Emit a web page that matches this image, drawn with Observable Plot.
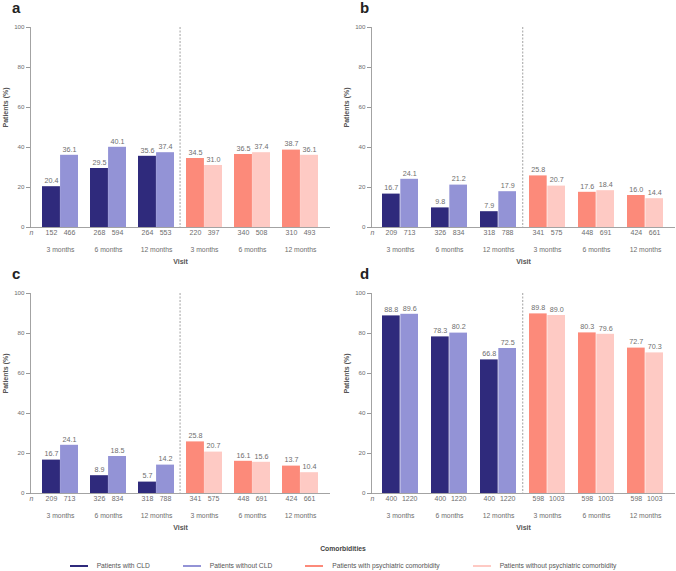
<!DOCTYPE html>
<html><head><meta charset="utf-8">
<script src="https://cdn.jsdelivr.net/npm/d3@7"></script>
<script src="https://cdn.jsdelivr.net/npm/@observablehq/plot@0.6"></script>
<style>
body{margin:0;background:#fff;font-family:"Liberation Sans",Arial,sans-serif;}
#wrap{position:relative;width:676px;height:571px;overflow:hidden;}
.panel{position:absolute;}
.letter{position:absolute;font-size:15px;font-weight:bold;color:#222;line-height:15px;}
#legtitle{position:absolute;left:0;width:686px;top:545px;text-align:center;font-size:6.8px;font-weight:bold;color:#444;}
#legend{position:absolute;left:0;width:686px;top:561px;display:flex;justify-content:center;gap:33px;font-size:6.7px;color:#555;line-height:10px;}
.item{display:flex;align-items:center;}
.sw{width:18px;height:2px;margin-right:9px;}
</style></head><body><div id="wrap"></div>
<script>
const visits = ["3 months", "6 months", "12 months"];
const seriesNames = ["Patients with CLD", "Patients without CLD", "Patients with psychiatric comorbidity", "Patients without psychiatric comorbidity"];
const seriesColors = ["#2f2a7c", "#9393d6", "#fc8a7a", "#fecac4"];
const yTicks = [0, 20, 40, 60, 80, 100];

// Panel a
const aCldWith = [20.4, 29.5, 35.6];
const aCldWithout = [36.1, 40.1, 37.4];
const aPsyWith = [34.5, 36.5, 38.7];
const aPsyWithout = [31.0, 37.4, 36.1];
const aNCldWith = [152, 268, 264];
const aNCldWithout = [466, 594, 553];
const aNPsyWith = [220, 340, 310];
const aNPsyWithout = [397, 508, 493];
// Panel b
const bCldWith = [16.7, 9.8, 7.9];
const bCldWithout = [24.1, 21.2, 17.9];
const bPsyWith = [25.8, 17.6, 16.0];
const bPsyWithout = [20.7, 18.4, 14.4];
const bNCldWith = [209, 326, 318];
const bNCldWithout = [713, 834, 788];
const bNPsyWith = [341, 448, 424];
const bNPsyWithout = [575, 691, 661];
// Panel c
const cCldWith = [16.7, 8.9, 5.7];
const cCldWithout = [24.1, 18.5, 14.2];
const cPsyWith = [25.8, 16.1, 13.7];
const cPsyWithout = [20.7, 15.6, 10.4];
const cNCldWith = [209, 326, 318];
const cNCldWithout = [713, 834, 788];
const cNPsyWith = [341, 448, 424];
const cNPsyWithout = [575, 691, 661];
// Panel d
const dCldWith = [88.8, 78.3, 66.8];
const dCldWithout = [89.6, 80.2, 72.5];
const dPsyWith = [89.8, 80.3, 72.7];
const dPsyWithout = [89.0, 79.6, 70.3];
const dNCldWith = [400, 400, 400];
const dNCldWithout = [1220, 1220, 1220];
const dNPsyWith = [598, 598, 598];
const dNPsyWithout = [1003, 1003, 1003];

const panels = [
  {letter: "a", left: 0, top: 0, ml: 30, mr: 8, v: [aCldWith, aCldWithout, aPsyWith, aPsyWithout], n: [aNCldWith, aNCldWithout, aNPsyWith, aNPsyWithout]},
  {letter: "b", left: 338, top: 0, ml: 33, mr: 1, v: [bCldWith, bCldWithout, bPsyWith, bPsyWithout], n: [bNCldWith, bNCldWithout, bNPsyWith, bNPsyWithout]},
  {letter: "c", left: 0, top: 266, ml: 30, mr: 8, v: [cCldWith, cCldWithout, cPsyWith, cPsyWithout], n: [cNCldWith, cNCldWithout, cNPsyWith, cNPsyWithout]},
  {letter: "d", left: 338, top: 266, ml: 33, mr: 1, v: [dCldWith, dCldWithout, dPsyWith, dPsyWithout], n: [dNCldWith, dNCldWithout, dNPsyWith, dNPsyWithout]}
];

const sides = ["CLD", "PSY"];
const keys = sides.flatMap(s => visits.map(v => s + "|" + v));
const W = 338, H = 270, MT = 27, MB = 43;
const padIn = 0.26, padOut = 0.2;
const wrap = document.getElementById("wrap");
const txt = "#6e6e6e";

for (const p of panels) {
  const rows = [];
  for (let si = 0; si < 4; si++) {
    const side = sides[Math.floor(si / 2)];
    visits.forEach((vis, i) => rows.push({
      key: side + "|" + vis, series: seriesNames[si], pos: si % 2 === 0 ? "L" : "R",
      value: p.v[si][i], n: p.n[si][i]
    }));
  }
  const xs = Plot.scale({x: {type: "band", domain: keys, range: [p.ml, W - p.mr], paddingInner: padIn, paddingOuter: padOut}});
  const bw = xs.bandwidth;
  const step = bw / (1 - padIn);
  const L = rows.filter(d => d.pos === "L"), R = rows.filter(d => d.pos === "R");
  const chart = Plot.plot({
    width: W, height: H, marginTop: MT, marginBottom: MB, marginLeft: p.ml, marginRight: p.mr,
    style: {fontFamily: "'Liberation Sans', Arial, sans-serif", background: "transparent", color: "#888"},
    x: {type: "band", domain: keys, paddingInner: padIn, paddingOuter: padOut, axis: null},
    y: {domain: [0, 100], axis: null},
    color: {domain: seriesNames, range: seriesColors},
    marks: [
      Plot.barY(L, {x: "key", y: "value", fill: "series", insetRight: bw / 2}),
      Plot.barY(R, {x: "key", y: "value", fill: "series", insetLeft: bw / 2}),
      Plot.ruleX([keys[3]], {x: d => d, dx: -step / 2, stroke: "#999", strokeWidth: 0.9, strokeDasharray: "2,1.5"}),
      Plot.ruleY([0], {stroke: "#999", strokeWidth: 0.9}),
      Plot.frame({anchor: "left", stroke: "#999", strokeWidth: 0.9}),
      Plot.axisY({ticks: yTicks, tickSize: 4, tickPadding: 2, label: null, fontSize: 6.2, color: "#999", fill: txt}),
      Plot.axisX({tickSize: 0, tickPadding: 20, tickFormat: k => k.split("|")[1], label: null, fontSize: 6.8, fill: txt}),
      Plot.text(L, {x: "key", y: "value", text: d => d.value.toFixed(1), dx: -bw / 4, dy: -6, fill: txt, fontSize: 7.2}),
      Plot.text(R, {x: "key", y: "value", text: d => d.value.toFixed(1), dx: bw / 4, dy: -6, fill: txt, fontSize: 7.2}),
      Plot.text(L, {x: "key", text: d => String(d.n), frameAnchor: "bottom", dx: -bw / 4, dy: 7, fill: txt, fontSize: 7}),
      Plot.text(R, {x: "key", text: d => String(d.n), frameAnchor: "bottom", dx: bw / 4, dy: 7, fill: txt, fontSize: 7}),
      Plot.text(["n"], {frameAnchor: "bottom-left", dx: -1, dy: 7, fontStyle: "italic", fill: txt, fontSize: 7}),
      Plot.text(["Patients (%)"], {frameAnchor: "left", rotate: -90, dx: -25, fontWeight: "bold", fill: "#555", fontSize: 7}),
      Plot.text(["Visit"], {frameAnchor: "bottom", dy: 36, fontWeight: "bold", fill: "#555", fontSize: 7})
    ]
  });
  const div = document.createElement("div");
  div.className = "panel";
  div.style.left = p.left + "px";
  div.style.top = p.top + "px";
  div.appendChild(chart);
  wrap.appendChild(div);
  const lt = document.createElement("div");
  lt.className = "letter";
  lt.textContent = p.letter;
  lt.style.left = (p.left + 12 + (p.left ? 10 : 0)) + "px";
  lt.style.top = (p.top + 0) + "px";
  wrap.appendChild(lt);
}

const title = document.createElement("div");
title.id = "legtitle";
title.textContent = "Comorbidities";
wrap.appendChild(title);
const leg = document.createElement("div");
leg.id = "legend";
seriesNames.forEach((name, i) => {
  const it = document.createElement("div");
  it.className = "item";
  const sw = document.createElement("span");
  sw.className = "sw";
  sw.style.background = seriesColors[i];
  const t = document.createElement("span");
  t.textContent = name;
  it.appendChild(sw); it.appendChild(t);
  leg.appendChild(it);
});
wrap.appendChild(leg);
</script></body></html>
